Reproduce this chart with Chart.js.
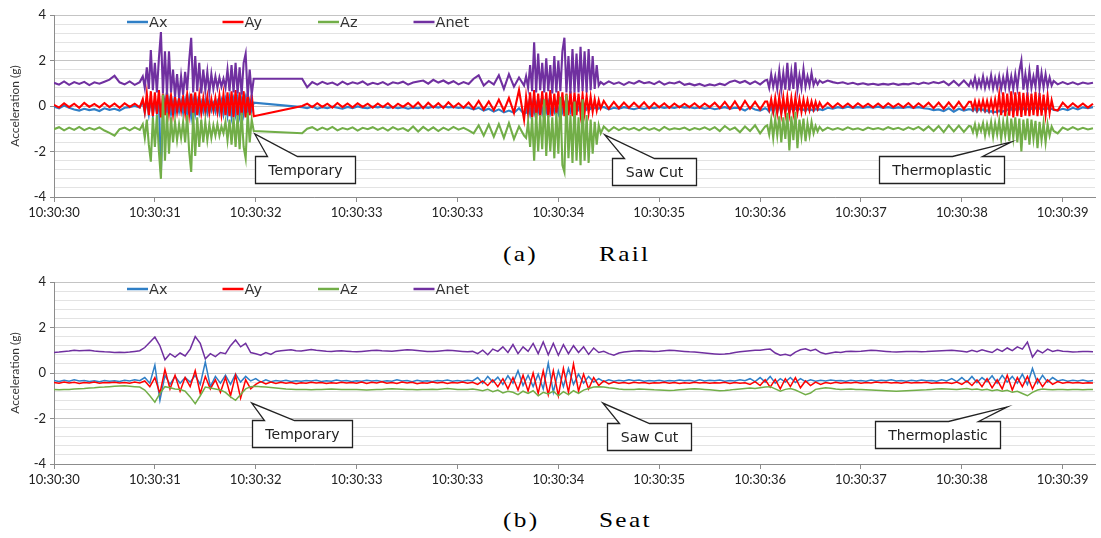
<!DOCTYPE html>
<html>
<head>
<meta charset="utf-8">
<script src="https://cdn.jsdelivr.net/npm/chart.js@4.4.1/dist/chart.umd.min.js"></script>
<style>
  html, body { margin: 0; padding: 0; background: #fff; }
  body { width: 1101px; height: 538px; position: relative; overflow: hidden; }
  .panel { position: absolute; left: 0; width: 1101px; height: 228px; }
  #railBox { top: 0; }
  #seatBox { top: 267px; }
  .cap {
    position: absolute;
    font-family: "Liberation Serif", "Times New Roman", serif;
    font-size: 22px;
    line-height: 22px;
    letter-spacing: 2px;
    color: #000;
    white-space: nowrap;
    transform: scaleX(1.15);
    transform-origin: left top;
  }
</style>
</head>
<body>
<div class="panel" id="railBox"><canvas id="railChart" width="1101" height="228"></canvas></div>
<div class="cap" style="left:503px; top:243px">(a)</div>
<div class="cap" style="left:599px; top:243px">Rail</div>
<div class="panel" id="seatBox"><canvas id="seatChart" width="1101" height="228"></canvas></div>
<div class="cap" style="left:503px; top:509px">(b)</div>
<div class="cap" style="left:599px; top:509px">Seat</div>

<script>
// axis labels
const xTickLabels = ['10:30:30', '10:30:31', '10:30:32', '10:30:33', '10:30:33', '10:30:34',
                     '10:30:35', '10:30:36', '10:30:37', '10:30:38', '10:30:39'];
const yTickValues = [-4, -2, 0, 2, 4];
const seriesNames = ['Ax', 'Ay', 'Az', 'Anet'];
const seriesColors = ['#2f7fc6', '#ff0000', '#72ae48', '#7030a0'];

// rail logger: 0.05 s in quiet stretches, 0.02 s through the bursts, no samples 1.98-2.46 s
const railSegments = [
  [0.00, 0.85, 0.05], [0.88, 1.98, 0.02], [2.46, 4.66, 0.05], [4.68, 5.42, 0.02], [5.45, 7.05, 0.05],
  [7.07, 7.59, 0.02], [7.62, 9.07, 0.05], [9.09, 9.91, 0.02], [9.95, 10.30, 0.05]
];

const railAx = [
  -0.03,-0.10,0.02,-0.08,-0.15,-0.20,-0.12,-0.18,-0.14,-0.22,-0.10,-0.17,-0.12,-0.20,-0.08,-0.05,0.00,-0.07,
  0.20,-0.30,0.25,-0.35,0.30,-0.40,0.20,-0.30,0.25,-2.90,-0.20,0.30,-0.40,0.25,-0.35,0.20,-0.30,0.15,-0.25,0.20,
  -0.30,0.25,-0.35,0.30,-0.45,0.25,-0.35,0.20,-0.30,0.15,-0.25,0.20,-0.30,0.15,-0.20,0.10,-0.25,0.15,-0.30,0.20,
  -0.35,0.25,-0.40,0.30,-0.45,0.25,-0.35,0.30,-0.40,0.25,-0.35,0.30,-0.30,0.20,-0.20,0.15,
  -0.05,-0.10,-0.02,-0.12,-0.05,-0.10,-0.03,-0.08,-0.12,-0.04,-0.09,-0.02,-0.07,-0.10,-0.03,-0.06,-0.02,-0.08,-0.04,-0.10,
  -0.05,-0.12,-0.07,-0.10,-0.04,-0.08,-0.03,-0.07,-0.02,-0.06,-0.04,-0.09,-0.05,-0.08,-0.15,-0.08,-0.20,-0.12,-0.25,-0.15,
  -0.28,-0.20,-0.30,-0.10,-0.35,
  -0.30,0.10,-0.35,0.15,-0.30,0.10,-0.25,0.15,-0.30,0.10,-0.25,0.15,-0.30,0.05,-0.25,0.10,-0.30,0.15,-0.25,0.10,
  -0.20,0.10,-0.25,0.05,-0.20,0.10,-0.15,0.05,-0.20,0.00,-0.15,0.00,-0.12,-0.02,-0.10,-0.04,-0.12,-0.06,
  -0.05,-0.15,-0.08,-0.12,-0.05,-0.10,-0.14,-0.08,-0.13,-0.06,-0.10,-0.04,-0.08,-0.05,-0.09,-0.03,-0.07,-0.05,-0.10,-0.06,
  -0.12,-0.08,-0.14,-0.10,-0.05,-0.12,-0.08,-0.10,-0.20,-0.05,-0.15,-0.20,-0.10,
  -0.15,-0.25,-0.05,-0.30,0.05,-0.28,0.10,-0.30,0.05,-0.25,0.00,-0.28,-0.05,-0.22,-0.10,-0.20,-0.12,-0.18,-0.15,-0.22,
  -0.12,-0.20,-0.15,-0.22,-0.12,-0.18,-0.14,
  -0.18,-0.08,-0.12,-0.05,-0.10,-0.03,-0.08,-0.05,-0.09,-0.04,-0.07,-0.03,-0.08,-0.05,-0.10,-0.06,-0.09,-0.04,-0.08,-0.05,
  -0.10,-0.12,-0.18,-0.15,-0.22,-0.10,-0.25,-0.12,-0.20,-0.14,
  -0.15,-0.22,-0.10,-0.25,-0.12,-0.20,-0.15,-0.25,-0.18,-0.28,-0.22,-0.30,-0.25,-0.28,-0.20,-0.30,-0.22,-0.25,-0.15,-0.20,
  -0.10,-0.25,-0.12,-0.20,-0.08,-0.22,-0.10,-0.18,-0.12,-0.20,-0.10,-0.18,-0.08,-0.15,-0.10,-0.18,-0.12,-0.16,-0.10,-0.15,
  -0.12,-0.18,
  -0.20,-0.12,-0.18,-0.08,-0.15,-0.06,-0.10,-0.05
];
const railAy = [
  0.05,-0.07,0.12,-0.05,0.10,-0.08,0.14,-0.04,0.09,-0.06,0.13,-0.05,0.11,-0.08,0.12,-0.04,0.10,-0.06,
  0.30,-0.25,0.55,-0.40,0.65,-0.45,0.60,-0.35,0.70,-0.50,0.55,-0.40,0.60,-0.30,0.45,-0.35,0.40,-0.25,0.35,-0.20,
  0.40,-0.30,0.50,-0.35,0.55,-0.45,0.60,-0.40,0.45,-0.30,0.35,-0.25,0.40,-0.30,0.30,-0.20,0.35,-0.25,0.45,-0.35,
  0.50,-0.40,0.60,-0.45,0.65,-0.50,0.70,-0.45,0.60,-0.40,0.65,-0.50,0.55,-0.40,0.50,-0.45,
  0.00,0.10,-0.05,0.12,-0.04,0.10,-0.07,0.13,-0.05,0.11,-0.06,0.12,-0.04,0.10,-0.07,0.11,-0.05,0.12,-0.08,0.10,
  -0.04,0.13,-0.06,0.15,-0.10,0.14,-0.07,0.12,-0.09,0.16,-0.06,0.12,-0.08,0.15,-0.12,0.22,-0.15,0.20,-0.18,0.28,
  -0.20,0.35,-0.30,0.70,-0.60,
  0.40,-0.35,0.60,-0.50,0.70,-0.60,0.55,-0.45,0.65,-0.40,0.60,-0.50,0.70,-0.45,0.55,-0.35,0.65,-0.50,0.60,-0.45,
  0.55,-0.40,0.65,-0.45,0.60,-0.40,0.55,-0.35,0.50,-0.30,0.45,-0.30,0.40,-0.25,0.30,-0.20,0.25,-0.10,
  0.22,-0.12,0.18,-0.10,0.15,-0.08,0.14,-0.07,0.16,-0.10,0.13,-0.06,0.12,-0.08,0.11,-0.06,0.10,-0.05,0.12,-0.07,
  0.11,-0.05,0.14,-0.09,0.18,-0.12,0.20,-0.15,0.22,-0.12,0.18,-0.15,0.20,
  0.20,-0.15,0.30,-0.25,0.35,-0.30,0.40,-0.35,0.38,-0.32,0.40,-0.35,0.35,-0.30,0.38,-0.28,0.30,-0.25,0.28,-0.20,
  0.25,-0.18,0.20,-0.15,0.18,-0.12,0.15,
  -0.08,0.13,-0.07,0.12,-0.06,0.11,-0.07,0.12,-0.05,0.10,-0.06,0.11,-0.07,0.12,-0.05,0.10,-0.06,0.13,-0.08,0.12,
  -0.06,0.14,-0.10,0.15,-0.12,0.16,-0.12,0.18,-0.14,0.18,
  0.18,-0.12,0.22,-0.15,0.20,-0.14,0.24,-0.16,0.22,-0.18,0.25,-0.20,0.28,-0.22,0.50,-0.40,0.60,-0.45,0.55,-0.42,
  0.65,-0.50,0.60,-0.45,0.62,-0.48,0.58,-0.42,0.60,-0.45,0.55,-0.40,0.62,-0.45,0.58,-0.42,0.50,-0.38,0.45,-0.30,
  0.25,-0.15,
  -0.20,0.15,-0.08,0.12,-0.06,0.11,-0.07,0.10
];
const railAz = [
  -1.02,-0.93,-1.07,-0.95,-1.05,-0.92,-1.06,-0.96,-1.04,-0.94,-1.08,-1.18,-1.30,-1.02,-0.95,-1.07,-0.94,-1.05,
  -0.80,-1.40,-0.60,-1.70,-2.45,-0.50,-1.80,-0.40,-2.00,-3.20,0.50,-2.40,-0.30,-2.10,-0.50,-1.60,-0.70,-1.50,-0.80,-1.40,
  -0.70,-1.60,-0.40,-2.00,-2.90,-0.30,-2.20,-0.50,-1.80,-0.60,-1.60,-0.70,-1.50,-0.80,-1.40,-0.85,-1.30,-0.80,-1.30,-0.90,
  -1.20,-0.70,-1.50,-0.60,-1.70,-0.50,-1.80,-0.40,-1.90,-0.30,-1.80,-2.30,-0.30,-1.60,-0.60,-1.10,
  -1.20,-1.00,-0.93,-1.06,-0.95,-1.04,-0.92,-1.07,-0.97,-1.03,-0.94,-1.08,-0.96,-1.02,-0.93,-1.05,-0.95,-1.08,-0.93,-1.04,
  -0.97,-1.10,-0.90,-1.12,-0.92,-1.08,-0.94,-1.10,-0.95,-1.06,-0.92,-1.04,-0.96,-1.07,-1.20,-0.85,-1.30,-0.82,-1.35,-0.80,
  -1.40,-0.75,-1.45,-0.90,-1.30,
  -1.40,-0.70,-1.80,-0.50,-2.40,-0.30,-2.00,-0.40,-1.90,0.30,-2.20,-0.40,-2.00,-0.50,-2.30,-0.30,-2.10,0.40,-2.60,-2.90,
  0.50,-2.30,-0.40,-2.50,0.20,-2.40,-0.50,-2.60,0.30,-2.40,-0.40,-2.50,-0.60,-2.10,-0.70,-1.70,-0.85,-1.20,
  -0.90,-1.10,-0.93,-1.06,-0.95,-1.04,-0.96,-1.07,-0.94,-1.05,-0.97,-1.08,-0.92,-1.04,-0.98,-1.02,-0.95,-1.06,-0.97,-1.03,
  -0.94,-1.05,-0.93,-1.10,-0.88,-1.05,-0.95,-1.15,-0.90,-1.10,-0.85,-1.20,-0.90,
  -0.85,-1.25,-0.60,-1.40,-0.55,-1.30,-0.45,-1.60,-0.50,-1.45,-0.30,-1.95,-0.45,-1.50,-0.25,-1.85,-0.60,-1.35,-0.55,-1.55,
  -0.75,-1.30,-0.70,-1.20,-0.88,-1.12,-0.92,
  -1.08,-0.95,-1.04,-0.97,-1.05,-0.94,-1.03,-0.98,-1.06,-0.95,-1.02,-0.97,-1.04,-0.93,-1.02,-0.96,-1.05,-0.94,-1.03,-0.92,
  -1.07,-0.90,-1.10,-0.88,-1.15,-0.85,-1.12,-0.86,-1.14,-0.88,
  -0.90,-1.15,-0.80,-1.25,-0.85,-1.10,-0.75,-1.30,-0.80,-1.20,-0.70,-1.35,-0.75,-1.25,-0.65,-1.45,-0.70,-1.30,-0.60,-1.55,
  -0.55,-1.40,-0.50,-1.60,-0.55,-2.00,-0.60,-1.50,-0.55,-1.70,-0.60,-1.45,-0.65,-1.85,-0.70,-1.50,-0.75,-1.60,-0.80,-1.30,
  -0.90,-1.10,
  -1.20,-0.95,-1.05,-0.93,-1.04,-0.96,-1.03,-0.98
];
const railAnet = [
  1.02,0.94,1.08,0.93,1.05,0.97,1.06,0.92,1.04,0.98,1.07,1.16,1.33,1.04,0.95,1.08,0.93,1.05,
  1.30,0.80,1.70,0.75,2.46,0.70,1.90,0.60,2.10,3.25,0.55,2.40,0.50,2.40,0.60,1.60,0.40,1.40,0.35,1.30,
  0.50,1.50,0.70,2.00,3.00,0.60,2.20,0.65,1.90,0.55,1.60,0.70,1.50,0.60,1.40,0.75,1.30,0.80,1.25,0.85,
  1.20,0.80,1.60,0.65,1.80,0.60,1.90,0.55,1.70,0.50,1.90,2.30,0.40,1.60,0.50,1.20,
  1.20,0.82,1.05,0.94,1.06,0.97,1.03,0.92,1.07,0.95,1.04,0.98,1.08,0.93,1.02,0.96,1.05,0.93,1.04,0.99,
  1.07,0.94,1.03,1.08,1.12,0.98,1.15,1.03,1.12,0.99,1.09,0.95,1.05,0.97,1.20,1.35,0.90,1.10,0.95,1.35,
  0.75,1.40,0.85,1.25,0.90,
  1.30,0.80,1.80,0.65,2.80,0.60,2.30,0.70,1.90,0.60,2.10,0.65,1.80,0.55,2.20,0.60,2.00,0.65,2.40,3.00,
  0.60,2.20,0.55,2.50,0.60,2.30,0.60,2.60,0.65,2.40,0.60,2.50,0.70,2.20,0.75,1.80,0.90,1.05,
  0.95,1.08,0.97,1.04,0.93,1.05,0.98,1.10,1.00,1.05,0.96,1.08,0.94,1.03,0.99,1.07,0.93,0.98,0.91,0.97,
  0.88,0.95,0.90,0.98,0.92,1.06,1.12,1.02,1.10,0.97,1.08,0.95,1.12,
  1.15,0.80,1.40,0.85,1.30,0.75,1.55,0.70,1.45,0.72,1.90,0.68,1.50,0.75,1.92,0.70,1.35,0.80,1.62,0.85,
  1.30,0.90,1.45,0.92,1.15,0.95,1.12,
  1.02,1.12,1.05,1.00,1.04,0.97,1.02,0.95,1.00,0.94,0.98,0.93,0.97,0.94,0.99,0.93,0.97,0.95,1.01,0.96,
  1.03,0.98,1.05,1.00,1.08,0.92,1.10,0.90,1.12,0.88,
  1.10,0.88,1.25,0.82,1.15,0.85,1.30,0.80,1.18,0.85,1.35,0.78,1.22,0.80,1.30,0.75,1.25,0.80,1.45,0.78,
  1.30,0.75,1.40,0.80,1.55,2.00,0.72,1.40,0.75,1.55,0.80,1.30,0.85,1.80,0.78,1.45,0.82,1.40,0.85,1.25,
  0.90,1.10,
  0.95,1.05,0.96,1.04,0.95,1.03,0.98,1.02
];

// seat logger: every 0.05 s from 10:30:30, one row per second
const seatAx = [
  -0.33,-0.37,-0.32,-0.36,-0.30,-0.35,-0.33,-0.37,-0.34,-0.38,-0.33,-0.36,-0.34,-0.37,-0.32,-0.35,-0.30,-0.34,-0.20,-0.45,
  0.35,-1.20,-0.10,-0.50,-0.15,-0.45,-0.20,-0.40,-0.10,-0.50,0.48,-0.60,-0.15,-0.45,-0.10,-0.50,-0.05,-0.40,-0.15,-0.35,
  -0.25,-0.40,-0.30,-0.38,-0.33,-0.36,-0.32,-0.37,-0.34,-0.36,-0.33,-0.35,-0.32,-0.37,-0.34,-0.36,-0.31,-0.35,-0.33,-0.37,
  -0.34,-0.36,-0.32,-0.35,-0.33,-0.37,-0.34,-0.36,-0.30,-0.35,-0.33,-0.38,-0.32,-0.36,-0.34,-0.37,-0.33,-0.35,-0.31,-0.36,
  -0.33,-0.36,-0.32,-0.35,-0.20,-0.45,-0.15,-0.40,-0.18,-0.50,-0.12,-0.45,0.10,-0.55,-0.10,-0.60,-0.05,-0.70,0.43,-0.85,
  0.10,-0.60,0.20,-0.50,-0.05,-0.45,-0.15,-0.40,-0.25,-0.38,-0.30,-0.36,-0.32,-0.35,-0.30,-0.34,-0.31,-0.36,-0.33,-0.35,
  -0.32,-0.36,-0.33,-0.35,-0.31,-0.34,-0.32,-0.36,-0.30,-0.35,-0.32,-0.34,-0.31,-0.36,-0.33,-0.35,-0.30,-0.34,-0.25,-0.38,
  -0.20,-0.40,-0.15,-0.45,-0.25,-0.40,-0.20,-0.42,-0.25,-0.38,-0.30,-0.36,-0.32,-0.35,-0.31,-0.34,-0.33,-0.36,-0.32,-0.35,
  -0.33,-0.36,-0.31,-0.35,-0.32,-0.34,-0.30,-0.35,-0.33,-0.36,-0.32,-0.35,-0.31,-0.34,-0.33,-0.36,-0.30,-0.35,-0.25,-0.38,
  -0.20,-0.40,-0.15,-0.42,-0.20,-0.38,-0.12,-0.45,-0.10,-0.40,-0.15,-0.45,-0.05,-0.50,0.20,-0.45,-0.10,-0.40,-0.20,-0.35,
  -0.30,-0.36,-0.32,-0.35,-0.31,-0.36,-0.33
];
const seatAy = [
  -0.42,-0.45,-0.40,-0.44,-0.41,-0.46,-0.42,-0.44,-0.40,-0.45,-0.42,-0.43,-0.41,-0.44,-0.42,-0.45,-0.40,-0.44,-0.35,-0.60,
  -0.20,-0.90,0.15,-0.70,-0.10,-0.80,-0.20,-0.60,0.10,-0.90,-0.15,-0.70,-0.30,-0.85,-0.20,-1.00,-0.10,-1.10,-0.30,-0.70,
  -0.50,-0.38,-0.48,-0.40,-0.46,-0.41,-0.45,-0.42,-0.47,-0.43,-0.45,-0.41,-0.44,-0.42,-0.46,-0.43,-0.45,-0.41,-0.44,-0.42,
  -0.45,-0.40,-0.46,-0.41,-0.44,-0.39,-0.45,-0.42,-0.46,-0.40,-0.44,-0.41,-0.47,-0.43,-0.45,-0.40,-0.44,-0.41,-0.46,-0.42,
  -0.44,-0.40,-0.45,-0.41,-0.50,-0.35,-0.55,-0.30,-0.60,-0.25,-0.70,-0.20,-0.75,-0.10,-0.80,0.00,-0.90,0.10,-0.95,0.10,
  -1.00,0.20,-0.85,0.40,-0.80,-0.05,-0.70,-0.20,-0.55,-0.35,-0.48,-0.40,-0.45,-0.42,-0.46,-0.41,-0.44,-0.42,-0.46,-0.43,
  -0.44,-0.41,-0.45,-0.42,-0.46,-0.43,-0.45,-0.41,-0.44,-0.42,-0.45,-0.43,-0.44,-0.41,-0.46,-0.42,-0.45,-0.43,-0.50,-0.38,
  -0.55,-0.30,-0.62,-0.28,-0.70,-0.25,-0.60,-0.20,-0.65,-0.35,-0.55,-0.40,-0.50,-0.42,-0.46,-0.41,-0.45,-0.42,-0.44,-0.41,
  -0.45,-0.42,-0.44,-0.40,-0.43,-0.41,-0.44,-0.42,-0.45,-0.41,-0.44,-0.42,-0.43,-0.41,-0.45,-0.43,-0.44,-0.42,-0.46,-0.40,
  -0.50,-0.35,-0.55,-0.30,-0.60,-0.25,-0.65,-0.30,-0.70,-0.10,-0.75,-0.20,-0.60,-0.15,-0.70,-0.25,-0.60,-0.30,-0.50,-0.38,
  -0.45,-0.41,-0.44,-0.42,-0.45,-0.43,-0.44
];
const seatAz = [
  -0.72,-0.74,-0.73,-0.72,-0.70,-0.69,-0.68,-0.66,-0.65,-0.63,-0.62,-0.60,-0.58,-0.57,-0.56,-0.58,-0.60,-0.62,-0.75,-1.00,
  -1.28,-0.90,-0.60,-0.65,-0.70,-0.72,-0.80,-1.05,-1.35,-1.00,-0.62,-0.66,-0.70,-0.75,-0.85,-1.05,-1.20,-0.95,-0.70,-0.60,
  -0.58,-0.60,-0.62,-0.64,-0.66,-0.68,-0.70,-0.71,-0.72,-0.73,-0.72,-0.74,-0.73,-0.72,-0.71,-0.70,-0.71,-0.72,-0.73,-0.72,
  -0.73,-0.74,-0.75,-0.74,-0.73,-0.72,-0.70,-0.69,-0.70,-0.71,-0.72,-0.73,-0.74,-0.73,-0.72,-0.71,-0.72,-0.70,-0.68,-0.70,
  -0.72,-0.73,-0.72,-0.70,-0.74,-0.78,-0.72,-0.82,-0.75,-0.88,-0.80,-0.85,-0.95,-0.80,-0.90,-0.78,-1.00,-0.85,-0.92,-0.80,
  -1.00,-0.82,-0.95,-0.78,-0.90,-0.75,-0.68,-0.62,-0.60,-0.62,-0.65,-0.67,-0.70,-0.72,-0.73,-0.72,-0.70,-0.71,-0.72,-0.74,
  -0.75,-0.76,-0.77,-0.76,-0.74,-0.72,-0.70,-0.69,-0.70,-0.72,-0.74,-0.76,-0.78,-0.77,-0.75,-0.72,-0.70,-0.68,-0.66,-0.68,
  -0.65,-0.62,-0.60,-0.70,-0.80,-0.72,-0.68,-0.75,-0.85,-0.95,-0.88,-0.72,-0.68,-0.65,-0.67,-0.70,-0.72,-0.71,-0.70,-0.72,
  -0.73,-0.74,-0.75,-0.76,-0.77,-0.78,-0.79,-0.80,-0.79,-0.78,-0.77,-0.76,-0.75,-0.74,-0.72,-0.70,-0.69,-0.70,-0.71,-0.72,
  -0.70,-0.68,-0.72,-0.70,-0.75,-0.72,-0.78,-0.74,-0.80,-0.76,-0.85,-0.80,-0.90,-1.00,-0.85,-0.75,-0.70,-0.72,-0.74,-0.72,
  -0.73,-0.74,-0.72,-0.73,-0.74,-0.73,-0.72
];
const seatAnet = [
  0.90,0.92,0.95,0.97,1.00,0.98,0.99,1.00,0.97,0.95,0.93,0.92,0.90,0.91,0.90,0.92,0.95,0.98,1.12,1.35,
  1.58,1.20,0.58,0.85,0.70,0.88,0.75,1.05,1.60,1.30,0.62,0.85,0.72,0.90,0.85,1.20,1.45,1.15,1.30,0.90,
  0.85,0.78,0.90,0.82,0.95,0.98,1.00,1.02,0.98,0.97,1.00,1.03,1.00,0.98,0.96,0.95,0.97,0.98,0.96,0.94,
  0.93,0.95,0.97,0.99,1.00,0.98,0.97,0.96,0.98,1.00,1.02,1.01,0.99,0.97,0.95,0.94,0.96,0.98,1.00,0.99,
  0.97,0.95,0.93,0.95,0.85,1.00,0.80,1.05,0.95,1.15,0.90,1.25,0.85,1.15,0.95,1.30,0.85,1.36,0.80,1.30,
  0.78,1.25,0.85,1.20,0.90,1.15,0.82,1.10,0.90,0.95,0.85,0.78,0.88,0.92,0.95,0.97,0.98,0.97,0.96,0.95,
  0.96,0.98,1.00,0.99,0.97,0.95,0.93,0.92,0.90,0.88,0.86,0.84,0.82,0.83,0.86,0.90,0.93,0.96,0.98,1.00,
  1.00,1.03,1.05,0.88,0.78,0.82,0.76,0.92,1.02,1.06,0.98,1.04,0.90,0.84,0.88,0.92,0.90,0.94,0.96,0.95,
  0.96,0.98,1.00,0.99,0.97,0.95,0.93,0.92,0.93,0.94,0.95,0.94,0.93,0.94,0.96,0.97,0.98,0.99,1.00,0.98,
  0.96,0.92,1.00,0.94,1.02,0.96,0.90,1.05,0.95,1.10,0.98,1.15,1.05,1.36,0.70,1.00,0.88,1.05,0.95,1.00,
  0.96,0.94,0.92,0.93,0.95,0.94,0.93
];

// callout boxes: tip and box centre in data units (s, g)
const railNotes = [
  { text: 'Temporary', tipT: 1.99, tipG: -1.23, boxT: 2.49, boxG: -2.79 },
  { text: 'Saw Cut', tipT: 5.46, tipG: -1.27, boxT: 5.95, boxG: -2.86 },
  { text: 'Thermoplastic', tipT: 9.49, tipG: -1.58, boxT: 8.80, boxG: -2.77 }
];
const seatNotes = [
  { text: 'Temporary', tipT: 1.96, tipG: -1.32, boxT: 2.46, boxG: -2.66 },
  { text: 'Saw Cut', tipT: 5.44, tipG: -1.32, boxT: 5.90, boxG: -2.77 },
  { text: 'Thermoplastic', tipT: 9.45, tipG: -1.49, boxT: 8.76, boxG: -2.70 }
];

// sample instants
const railTimes = [];
railSegments.forEach(([a, b, step]) => {
  const n = Math.round((b - a) / step) + 1;
  for (let k = 0; k < n; k++) railTimes.push(+(a + k * step).toFixed(3));
});
const seatTimes = seatAx.map((_, i) => +(i * 0.05).toFixed(2));

Chart.defaults.font.family = 'Lato, "DejaVu Sans", sans-serif';
Chart.defaults.color = '#222';

function isMajor(v) {
  return yTickValues.some(m => Math.abs(m - v) < 1e-6);
}

const insideLegend = {
  id: 'insideLegend',
  afterDraw(chart) {
    const { ctx, chartArea } = chart;
    ctx.save();
    ctx.font = '14.5px "DejaVu Sans"';
    ctx.textBaseline = 'middle';
    ctx.textAlign = 'left';
    chart.data.datasets.forEach((ds, i) => {
      const x0 = chartArea.left + 73 + i * 95.5;
      const yy = chartArea.top + 7;
      ctx.strokeStyle = ds.borderColor;
      ctx.lineWidth = 2.5;
      ctx.beginPath();
      ctx.moveTo(x0, yy);
      ctx.lineTo(x0 + 21, yy);
      ctx.stroke();
      ctx.fillStyle = '#333';
      ctx.fillText(ds.label, x0 + 22, yy + 1);
    });
    ctx.restore();
  }
};

function makeCallouts(notes) {
  return {
    id: 'callouts',
    afterDatasetsDraw(chart) {
      const { ctx, scales: { x, y } } = chart;
      ctx.save();
      ctx.font = '14px "DejaVu Sans"';
      notes.forEach(n => {
        const cx = x.getPixelForValue(n.boxT);
        const cy = y.getPixelForValue(n.boxG);
        const w = Math.round(ctx.measureText(n.text).width + 26);
        const h = 27;
        const l = Math.round(cx - w / 2) + 0.5;
        const t = Math.round(cy - h / 2) + 0.5;
        const px = x.getPixelForValue(n.tipT);
        const py = y.getPixelForValue(n.tipG);
        const b0 = px < cx ? l + 12 : l + w - 52;
        const b1 = b0 + 30;
        ctx.beginPath();
        ctx.moveTo(l, t);
        ctx.lineTo(b0, t);
        ctx.lineTo(px, py);
        ctx.lineTo(b1, t);
        ctx.lineTo(l + w, t);
        ctx.lineTo(l + w, t + h);
        ctx.lineTo(l, t + h);
        ctx.closePath();
        ctx.fillStyle = '#fff';
        ctx.fill();
        ctx.strokeStyle = '#222';
        ctx.lineWidth = 1.3;
        ctx.stroke();
        ctx.fillStyle = '#222';
        ctx.textAlign = 'center';
        ctx.textBaseline = 'middle';
        ctx.fillText(n.text, l + w / 2, t + h / 2 + 1);
      });
      ctx.restore();
    }
  };
}

function buildPanel(canvasId, times, series, notes, lineWidth) {
  const datasets = series.map((vals, i) => ({
    label: seriesNames[i],
    data: vals.map((v, k) => ({ x: times[k], y: v })),
    borderColor: seriesColors[i],
    backgroundColor: seriesColors[i],
    borderWidth: lineWidth,
    pointRadius: 0,
    tension: 0,
    spanGaps: true,
    order: series.length - 1 - i
  }));
  return new Chart(document.getElementById(canvasId), {
    type: 'line',
    data: { datasets: datasets },
    options: {
      responsive: false,
      animation: false,
      events: [],
      layout: { padding: { top: 15, right: 6, left: 0, bottom: 0 } },
      plugins: { legend: { display: false }, tooltip: { enabled: false } },
      scales: {
        x: {
          type: 'linear',
          min: 0,
          max: 10.32,
          afterBuildTicks: a => { a.ticks = xTickLabels.map((_, i) => ({ value: i })); },
          afterFit: a => { a.height = 31; },
          ticks: {
            autoSkip: false,
            maxRotation: 0,
            padding: 3,
            color: '#222',
            font: { size: 13 },
            callback: v => xTickLabels[Math.round(v)]
          },
          grid: { drawOnChartArea: false, drawTicks: true, tickLength: 5, tickColor: '#8c8c8c' },
          border: { display: true, color: '#8c8c8c', width: 1 }
        },
        y: {
          min: -4,
          max: 4,
          afterBuildTicks: a => {
            const t = [];
            for (let k = 0; k <= 20; k++) t.push({ value: Math.round((-4 + k * 0.4) * 10) / 10 });
            a.ticks = t;
          },
          afterFit: a => { a.width = 54; },
          ticks: {
            autoSkip: false,
            padding: 4,
            color: '#222',
            font: { size: 13 },
            callback: v => isMajor(v) ? String(Math.round(v)) : ''
          },
          grid: {
            color: c => isMajor(c.tick ? c.tick.value : 0) ? '#c4c4c4' : '#e3e3e3',
            tickLength: 4,
            tickColor: c => isMajor(c.tick ? c.tick.value : 0) ? '#8c8c8c' : 'rgba(0,0,0,0)'
          },
          border: { display: true, color: '#8c8c8c', width: 1 },
          title: {
            display: true,
            text: 'Acceleration (g)',
            color: '#333',
            font: { size: 12 },
            padding: { top: 8, bottom: 0 }
          }
        }
      }
    },
    plugins: [insideLegend, makeCallouts(notes)]
  });
}

buildPanel('railChart', railTimes, [railAx, railAy, railAz, railAnet], railNotes, 2.1);
buildPanel('seatChart', seatTimes, [seatAx, seatAy, seatAz, seatAnet], seatNotes, 1.5);
</script>
</body>
</html>
